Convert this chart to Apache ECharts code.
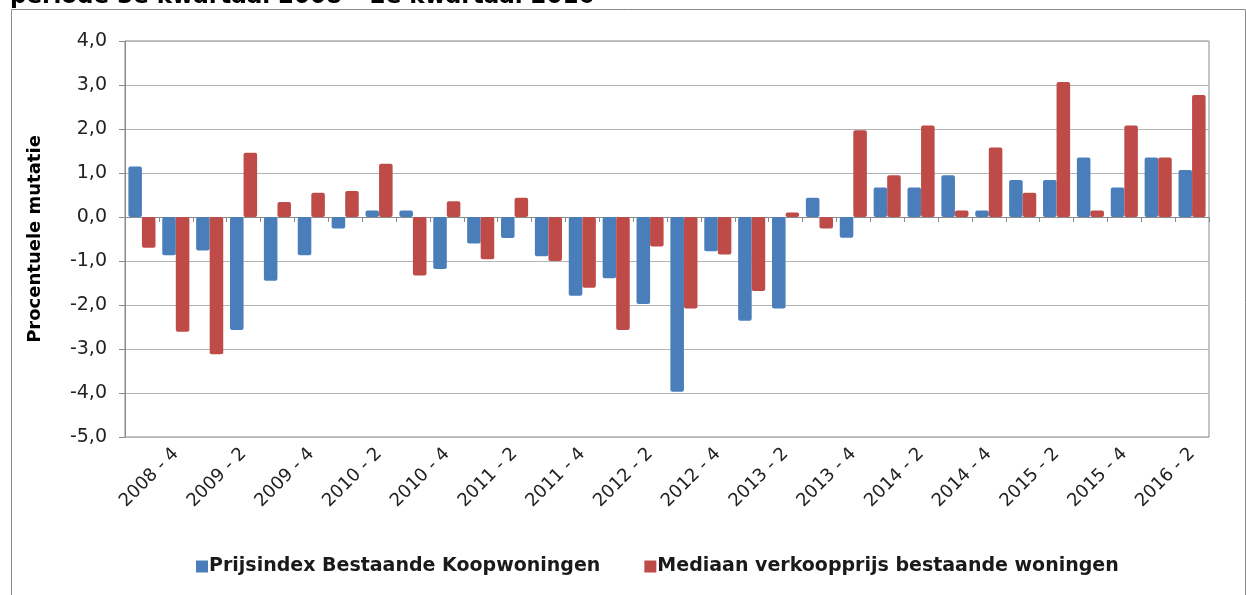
<!DOCTYPE html>
<html>
<head>
<meta charset="utf-8">
<script src="https://cdn.jsdelivr.net/npm/echarts@6/dist/echarts.min.js"></script>
<style>
html,body{margin:0;padding:0;background:#fff;}
#chart{width:1246px;height:595px;}
</style>
</head>
<body>
<div id="chart"></div>
<script>
const categories = ['2008 - 3','2008 - 4','2009 - 1','2009 - 2','2009 - 3','2009 - 4',
  '2010 - 1','2010 - 2','2010 - 3','2010 - 4','2011 - 1','2011 - 2','2011 - 3','2011 - 4',
  '2012 - 1','2012 - 2','2012 - 3','2012 - 4','2013 - 1','2013 - 2','2013 - 3','2013 - 4',
  '2014 - 1','2014 - 2','2014 - 3','2014 - 4','2015 - 1','2015 - 2','2015 - 3','2015 - 4',
  '2016 - 1','2016 - 2'];
const prijsindex = [1.15,-0.87,-0.76,-2.57,-1.45,-0.87,-0.26,0.15,0.15,-1.18,-0.60,-0.48,-0.89,-1.79,
  -1.39,-1.98,-3.97,-0.78,-2.36,-2.08,0.44,-0.47,0.67,0.67,0.95,0.15,0.84,0.84,1.35,0.67,1.35,1.07];
const mediaan = [-0.70,-2.61,-3.12,1.46,0.34,0.55,0.59,1.21,-1.33,0.36,-0.96,0.44,-1.00,-1.61,
  -2.57,-0.67,-2.08,-0.85,-1.68,0.10,-0.26,1.97,0.95,2.08,0.15,1.58,0.55,3.07,0.15,2.08,1.35,2.77];
const seriesNames = ['Prijsindex Bestaande Koopwoningen','Mediaan verkoopprijs bestaande woningen'];
const yTicks = {min:-5, max:4, interval:1};
const titleText = 'periode 3e kwartaal 2008 \u2013 2e kwartaal 2016';
const yName = 'Procentuele mutatie';

const chart = echarts.init(document.getElementById('chart'), null, {renderer:'canvas'});
const font = 'DejaVu Sans';
chart.setOption({
  animation:false,
  backgroundColor:'#fff',
  title:{text:titleText, left:5, top:-19, textStyle:{fontFamily:font, fontWeight:'bold', fontSize:23, color:'#000'}},
  graphic:[{type:'rect', left:9, top:7, shape:{width:1234, height:600}, style:{fill:'none', stroke:'#8c8c8c', lineWidth:1}, silent:true}],
  color:['#4A7EBB','#BE4B48'],
  legend:{
    bottom:14, left:191, itemWidth:12, itemHeight:12, itemGap:44, icon:'rect',
    textStyle:{fontFamily:font, fontSize:19, fontWeight:'bold', color:'#1a1a1a', padding:[0,0,0,-4]},
    data:seriesNames
  },
  grid:{left:125, right:37, top:41, bottom:158, show:true, borderColor:'#8a8a8a', borderWidth:1},
  xAxis:[
    {type:'category', data:categories, position:'bottom',
     axisLine:{show:false, onZero:false}, axisTick:{show:false},
     axisLabel:{interval:(i)=>i%2===1, rotate:45, margin:14, fontFamily:font, fontSize:18, color:'#222'}},
    {type:'category', data:categories, position:'bottom',
     axisLine:{show:true, onZero:true, lineStyle:{color:'#8a8a8a', width:1}},
     axisTick:{show:true, interval:0, length:5, lineStyle:{color:'#8a8a8a'}},
     axisLabel:{show:false}}
  ],
  yAxis:{type:'value', min:yTicks.min, max:yTicks.max, interval:yTicks.interval,
    name:yName, nameLocation:'middle', nameGap:81, nameRotate:90,
    nameTextStyle:{fontFamily:font, fontWeight:'bold', fontSize:18, color:'#000'},
    axisLine:{show:true, lineStyle:{color:'#8a8a8a'}},
    axisTick:{show:true, length:6, lineStyle:{color:'#8a8a8a'}},
    axisLabel:{margin:18, fontFamily:font, fontSize:19, color:'#222', formatter:(v)=>v.toFixed(1).replace('.', ',')},
    splitLine:{lineStyle:{color:'#b4b4b4', width:1}}
  },
  series:[
    {name:seriesNames[0], type:'bar', xAxisIndex:0, data:prijsindex, barGap:'0%', barCategoryGap:'20%',
     itemStyle:{borderRadius:2}},
    {name:seriesNames[1], type:'bar', xAxisIndex:0, data:mediaan, barGap:'0%', barCategoryGap:'20%',
     itemStyle:{borderRadius:2}}
  ]
});
</script>
</body>
</html>
